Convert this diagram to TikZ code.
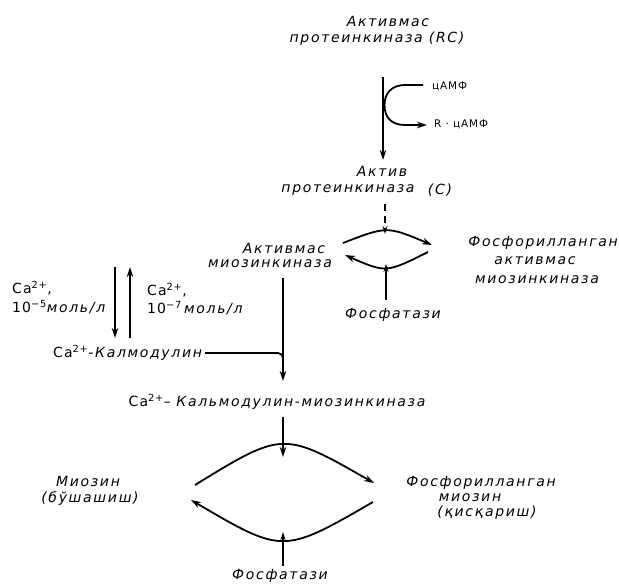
\documentclass[tikz,border=0pt]{standalone}
\usepackage{fontspec}
\setmainfont{DejaVu Sans}
\newfontfamily\itf[LetterSpace=12]{DejaVu Sans}
\newfontfamily\upf[LetterSpace=8]{DejaVu Sans}
\usetikzlibrary{arrows.meta}
\tikzset{
  lbl/.style={font=\itf\itshape\fontsize{14}{16}\selectfont, inner sep=0pt},
  upl/.style={font=\upf\fontsize{14}{16}\selectfont, inner sep=0pt},
  sml/.style={font=\upf\fontsize{10.5}{12}\selectfont, inner sep=0pt},
  conn/.style={line width=1.8pt, -{Stealth[length=10pt,width=6.5pt]}},
  thinconn/.style={line width=1.2pt, -{Stealth[length=8pt,width=5pt]}},
  plain/.style={line width=1.8pt},
}
\begin{document}
\begin{tikzpicture}[x=1pt,y=-1pt]
\useasboundingbox (0,0) rectangle (619,585);
% top
\node[lbl] (t1) at (388,21) {Активмас};
\node[lbl] (t2) at (377,39) {протеинкиназа (RC)};
\coordinate (a0) at (383,77);
\coordinate (a1) at (383,160);
\draw[conn] (a0) -- (a1);
\coordinate (c1) at (423,85);
\coordinate (c2) at (427,125);
\draw[conn] (c1) -- (405,85) .. controls (391,85) and (384.5,94) .. (384.5,105) .. controls (384.5,117) and (391,125) .. (405,125) -- (c2);
\node[sml, anchor=west] (camp) at (432,86) {цАМФ};
\node[sml, anchor=west] (rcamp) at (434,124) {R · цАМФ};
% active kinase
\node[lbl] (k1) at (382,171) {Актив};
\node[lbl] (k2) at (348,190) {протеинкиназа};
\node[lbl] (k3) at (440,190) {(C)};
\coordinate (d0) at (385,204);
\coordinate (d1) at (385,234);
\draw[thinconn, dash pattern=on 7pt off 5pt] (d0) -- (d1);
% small cycle
\coordinate (s1) at (343,243);
\coordinate (s2) at (432,245);
\coordinate (s3) at (428,252);
\coordinate (s4) at (345,255);
\draw[conn] (s1) .. controls (387,226) .. (s2);
\draw[conn] (s3) .. controls (386,273) .. (s4);
\node[lbl] (f1) at (393,315) {Фосфатази};
\coordinate (f1t) at (386,300);
\coordinate (f1h) at (386,264);
\draw[thinconn] (f1t) -- (f1h);
\node[lbl] (r1) at (543,243) {Фосфорилланган};
\node[lbl] (r2) at (535,261) {активмас};
\node[lbl] (r3) at (537,280) {миозинкиназа};
% inactive myosin kinase
\node[lbl] (m1) at (284,248) {Активмас};
\node[lbl] (m2) at (270,264) {миозинкиназа};
\coordinate (v0) at (283,278);
\coordinate (v1) at (283,381);
\draw[conn] (v0) -- (v1);
% Ca block
\node[upl, anchor=west] (ca1) at (12,288) {Ca\textsuperscript{2+},};
\node[upl, anchor=west] (ca2) at (12,307) {10\textsuperscript{−5}{\itf\itshape моль/л}};
\node[upl, anchor=west] (ca3) at (147,290) {Ca\textsuperscript{2+},};
\node[upl, anchor=west] (ca4) at (147,308) {10\textsuperscript{−7}\,{\itf\itshape моль/л}};
\coordinate (u0) at (115,267);
\coordinate (u1) at (115,338);
\coordinate (w0) at (130,338);
\coordinate (w1) at (130,267);
\draw[conn] (u0) -- (u1);
\draw[conn] (w0) -- (w1);
\node[upl, anchor=west] (kal) at (53,353) {Ca\textsuperscript{2+}{\itf\itshape -Калмодулин}};
\draw[plain, rounded corners=5pt] (kal.east) ++(3,0) -- (283,353) -- (283,366);
% complex
\node[upl] (cx) at (277,402) {Ca\textsuperscript{2+}– {\itf\itshape Кальмодулин-миозинкиназа}};
\coordinate (b0) at (283,417);
\coordinate (b1) at (283,457);
\draw[conn] (b0) -- (b1);
% big cycle
\coordinate (e1) at (195,485);
\coordinate (e2) at (374,483);
\coordinate (e3) at (373,502);
\coordinate (e4) at (191,500);
\draw[conn] (e1) .. controls (283,431) .. (e2);
\draw[conn] (e3) .. controls (283,554) .. (e4);
\node[lbl] (my1) at (88,481) {Миозин};
\node[lbl] (my2) at (90,499) {(бўшашиш)};
\node[lbl] (p1) at (481,483) {Фосфорилланган};
\node[lbl] (p2) at (470,498) {миозин};
\node[lbl] (p3) at (487,513) {(қисқариш)};
\node[lbl] (f2) at (280,576) {Фосфатази};
\coordinate (g0) at (283,566);
\coordinate (g1) at (283,532);
\draw[thinconn] (g0) -- (g1);
\end{tikzpicture}
\end{document}
